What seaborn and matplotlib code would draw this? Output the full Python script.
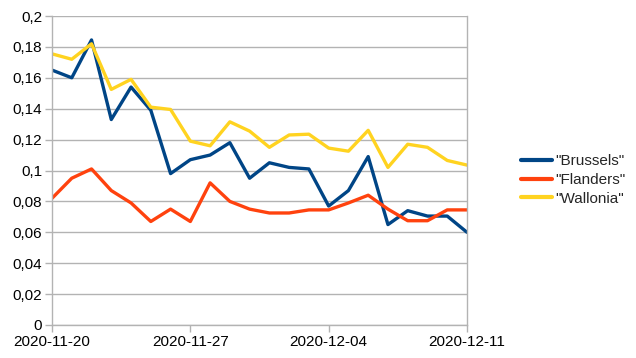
import matplotlib
matplotlib.use("Agg")
import matplotlib.pyplot as plt
import matplotlib.dates as mdates
import matplotlib.ticker as mticker
import seaborn as sns
import pandas as pd
import numpy as np

dates = pd.date_range("2020-11-20", "2020-12-11", freq="D")
brussels = [0.165, 0.160, 0.1845, 0.133, 0.154, 0.139, 0.098, 0.107, 0.110, 0.118, 0.095,
            0.105, 0.102, 0.101, 0.077, 0.087, 0.109, 0.065, 0.074, 0.0705, 0.0705, 0.060]
flanders = [0.082, 0.095, 0.101, 0.087, 0.079, 0.067, 0.075, 0.067, 0.092, 0.080, 0.075,
            0.0725, 0.0725, 0.0745, 0.0745, 0.079, 0.084, 0.075, 0.0675, 0.0675, 0.0745, 0.0745]
wallonia = [0.1755, 0.172, 0.182, 0.1525, 0.159, 0.141, 0.1395, 0.119, 0.116, 0.1315, 0.1255,
            0.115, 0.123, 0.1235, 0.1145, 0.1125, 0.126, 0.102, 0.117, 0.115, 0.1065, 0.1035]
series_names = ['"Brussels"', '"Flanders"', '"Wallonia"']
colors = ["#004586", "#ff420e", "#ffd320"]

df = pd.DataFrame({
    "date": list(dates) * 3,
    "value": brussels + flanders + wallonia,
    "region": [series_names[0]] * len(dates) + [series_names[1]] * len(dates) + [series_names[2]] * len(dates),
})

sns.set_theme(style="white")
plt.rcParams["font.family"] = ["Liberation Sans", "DejaVu Sans"]

fig = plt.figure(figsize=(6.36, 3.58), dpi=100)
ax = fig.add_axes([52/636, 33/358, 415/636, 309/358])

sns.lineplot(data=df, x="date", y="value", hue="region", palette=colors,
             linewidth=2.4, ax=ax, legend=True)

ax.set_xlim(dates[0], dates[-1])
ax.set_ylim(0, 0.2)
ax.set_yticks(np.arange(0, 0.2001, 0.02))
ax.yaxis.set_major_formatter(mticker.FuncFormatter(
    lambda v, p: "0" if abs(v) < 1e-9 else ("%g" % round(v, 2)).replace(".", ",")))
ax.set_xticks([dates[0], dates[7], dates[14], dates[21]])
ax.xaxis.set_major_formatter(mdates.DateFormatter("%Y-%m-%d"))
ax.set_xlabel("")
ax.set_ylabel("")
ax.grid(axis="y", color="#b3b3b3", linewidth=1)
ax.set_axisbelow(True)
for s in ["left", "bottom", "right"]:
    ax.spines[s].set_color("#b3b3b3")
    ax.spines[s].set_linewidth(1)
ax.spines["top"].set_visible(False)
ax.tick_params(axis="both", which="major", length=5, width=1, color="#b3b3b3",
               labelsize=11, labelcolor="black", direction="out", left=True, bottom=True, pad=2)

leg = ax.legend(loc="center left", bbox_to_anchor=(521/636, 178/358), bbox_transform=fig.transFigure,
                frameon=False, fontsize=11, handlelength=2.0, handletextpad=0.25,
                labelspacing=0.3, borderaxespad=0, borderpad=0)
for line in leg.get_lines():
    line.set_linewidth(3)

fig.savefig("out.png", dpi=100)
